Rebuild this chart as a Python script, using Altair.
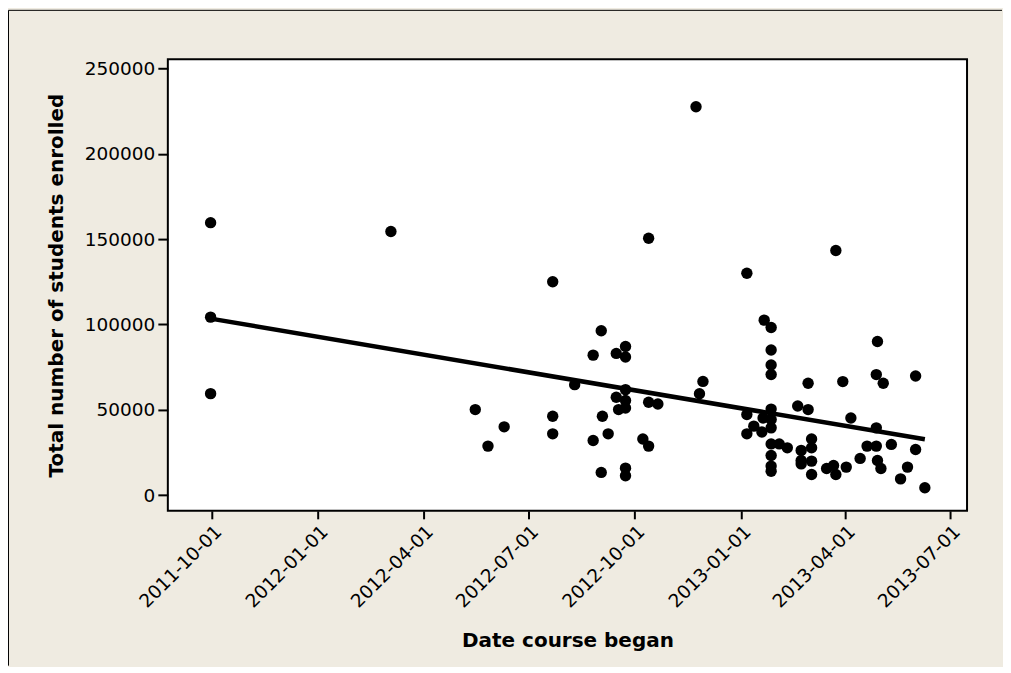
import altair as alt
import pandas as pd

dates = [
    "2011-09-30", "2011-09-30", "2011-09-30", "2012-03-04", "2012-11-23",
    "2012-10-13", "2012-07-22", "2012-09-02", "2012-08-26", "2012-09-15",
    "2012-09-23", "2012-09-23", "2012-08-10", "2012-09-23", "2012-09-15",
    "2012-09-23", "2012-10-13", "2012-10-21", "2012-09-17", "2012-09-23",
    "2012-05-16", "2012-06-10", "2012-05-27", "2012-07-22", "2012-07-22",
    "2012-09-03", "2012-09-08", "2012-08-26", "2012-10-08", "2012-10-13",
    "2012-09-02", "2012-09-23", "2012-09-23", "2012-11-29", "2012-11-26",
    "2013-01-06", "2013-03-24", "2013-01-21", "2013-01-27", "2013-01-27",
    "2013-01-27", "2013-01-27", "2013-02-28", "2013-03-30", "2013-04-29",
    "2013-04-28", "2013-05-04", "2013-06-01", "2013-02-19", "2013-02-28",
    "2013-01-27", "2013-01-06", "2013-01-20", "2013-01-27", "2013-01-12",
    "2013-01-27", "2013-01-06", "2013-01-19", "2013-04-06", "2013-04-28",
    "2013-03-03", "2013-03-03", "2013-01-27", "2013-02-03", "2013-02-10",
    "2013-02-22", "2013-01-27", "2013-02-22", "2013-03-03", "2013-02-22",
    "2013-04-20", "2013-04-28", "2013-05-11", "2013-06-01", "2013-04-14",
    "2013-04-29", "2013-05-02", "2013-01-27", "2013-01-27", "2013-03-03",
    "2013-03-16", "2013-03-22", "2013-03-24", "2013-04-02", "2013-05-25",
    "2013-05-19", "2013-06-09",
]
enrolled = [
    159600, 104250, 59450, 154400, 227500,
    150500, 125000, 96300, 82000, 83000,
    87100, 80900, 64700, 61800, 57300,
    55400, 54400, 53400, 50100, 51000,
    50100, 40000, 28700, 46200, 35900,
    46200, 35900, 32000, 32900, 28700,
    13300, 15800, 11300, 66600, 59400,
    130000, 143300, 102500, 98200, 85000,
    76200, 70600, 65500, 66500, 90000,
    70600, 65500, 69800, 52200, 50100,
    50400, 47200, 45200, 44300, 40400,
    39400, 35900, 37000, 45200, 39400,
    32900, 27700, 30000, 30000, 27700,
    26200, 23200, 20300, 19900, 18300,
    28700, 28700, 29700, 26700, 21500,
    20300, 15600, 17000, 14000, 12100,
    15600, 17400, 12100, 16400, 16400,
    9500, 4300,
]
tick_dates = ["2011-10-01", "2012-01-01", "2012-04-01", "2012-07-01",
              "2012-10-01", "2013-01-01", "2013-04-01", "2013-07-01"]
y_ticks = [0, 50000, 100000, 150000, 200000, 250000]

df = pd.DataFrame({"date": pd.to_datetime(dates), "enrolled": enrolled})


def dt(s):
    y, m, d = (int(p) for p in s.split("-"))
    return alt.DateTime(year=y, month=m, date=d)


FONT = "DejaVu Sans"

x_enc = alt.X(
    "date:T",
    title="Date course began",
    scale=alt.Scale(domain=[alt.DateTime(year=2011, month=8, date=24),
                            alt.DateTime(year=2013, month=7, date=15, hours=12)],
                    nice=False),
    axis=alt.Axis(values=[dt(s) for s in tick_dates], format="%Y-%m-%d",
                  labelAngle=-45, grid=False, domain=False,
                  tickSize=8, tickWidth=2, tickColor="black",
                  labelFontSize=18.5, labelFont=FONT, labelColor="black",
                  labelPadding=3,
                  titleFontSize=20, titleFont=FONT, titleFontWeight="bold",
                  titleColor="black", titlePadding=20),
)
y_enc = alt.Y(
    "enrolled:Q",
    title="Total number of students enrolled",
    scale=alt.Scale(domain=[-9200, 255300], nice=False, zero=False),
    axis=alt.Axis(values=y_ticks, format="d", grid=False, domain=False,
                  tickSize=10, tickWidth=2, tickColor="black",
                  labelFontSize=18.5, labelFont=FONT, labelColor="black",
                  labelPadding=3,
                  titleFontSize=20, titleFont=FONT, titleFontWeight="bold",
                  titleColor="black", titlePadding=18),
)

base = alt.Chart(df)
points = base.mark_circle(size=130, color="black", opacity=1).encode(x=x_enc, y=y_enc)
fit = base.transform_regression("date", "enrolled").mark_line(
    color="black", strokeWidth=4.5).encode(x="date:T", y="enrolled:Q")

frame_df = pd.DataFrame({"k": [0]})
frame_top = alt.Chart(frame_df).mark_rule(color="black", strokeWidth=1).encode(
    x=alt.value(-159.5), x2=alt.value(835), y=alt.value(-49))
frame_left = alt.Chart(frame_df).mark_rule(color="black", strokeWidth=1).encode(
    x=alt.value(-159.5), y=alt.value(-49), y2=alt.value(607))

chart = alt.layer(points, fit, frame_top, frame_left).properties(
    width=800, height=452,
    background="#EFEBE1",
    padding={"left": 0, "top": 1, "right": 0, "bottom": 0},
    autosize=alt.AutoSizeParams(type="pad"),
).configure_view(fill="white", stroke="black", strokeWidth=2)

chart.save("out.html", embed_options={"renderer": "svg", "actions": False})
